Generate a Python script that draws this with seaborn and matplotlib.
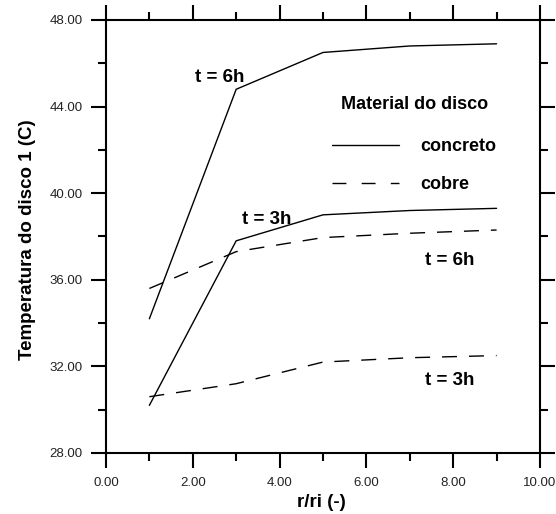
import matplotlib
matplotlib.use('Agg')
import matplotlib.pyplot as plt
from matplotlib.lines import Line2D
from matplotlib.ticker import MultipleLocator, FormatStrFormatter
import seaborn as sns
import pandas as pd

# Data
r_ri = [1, 3, 5, 7, 9]
concreto_6h = [34.2, 44.8, 46.5, 46.8, 46.9]
concreto_3h = [30.2, 37.8, 39.0, 39.2, 39.3]
cobre_6h = [35.6, 37.3, 37.95, 38.15, 38.3]
cobre_3h = [30.6, 31.2, 32.2, 32.4, 32.5]

sns.set_style('white')
plt.rcParams['font.family'] = ['Liberation Sans', 'DejaVu Sans']
plt.rcParams['text.color'] = 'black'
plt.rcParams['axes.labelcolor'] = 'black'

fig = plt.figure(figsize=(5.56, 5.14), dpi=100)
ax = fig.add_axes([0.1906, 0.1187, 0.7806, 0.8424])

dash = (0, (10.8, 8.6))
series = [(concreto_6h, '-'), (concreto_3h, '-'),
          (cobre_6h, dash), (cobre_3h, dash)]
for vals, ls in series:
    df = pd.DataFrame({'x': r_ri, 'y': vals})
    sns.lineplot(data=df, x='x', y='y', ax=ax, color='black',
                 linewidth=1.0, linestyle=ls)

# Axes limits and ticks
ax.set_xlim(0, 10)
ax.set_ylim(28, 48)
ax.xaxis.set_major_locator(MultipleLocator(2))
ax.xaxis.set_minor_locator(MultipleLocator(1))
ax.yaxis.set_major_locator(MultipleLocator(4))
ax.yaxis.set_minor_locator(MultipleLocator(2))
ax.xaxis.set_major_formatter(FormatStrFormatter('%.2f'))
ax.yaxis.set_major_formatter(FormatStrFormatter('%.2f'))
ax.tick_params(which='both', direction='out', top=True, right=True,
               bottom=True, left=True, width=1.5, color='black',
               labelsize=9.5, labelcolor='#222222')
ax.tick_params(which='major', length=11, pad=6)
ax.tick_params(which='minor', length=5.5)
for s in ax.spines.values():
    s.set_linewidth(1.5)
    s.set_color('black')

ax.set_xlabel('r/ri (-)', fontsize=13.5, fontweight='bold')
ax.set_ylabel('Temperatura do disco 1 (C)', fontsize=13.5, fontweight='bold')
ax.xaxis.set_label_coords(0.497, -0.095)
ax.yaxis.set_label_coords(-0.162, 0.492)

# Curve labels
lbl = dict(fontsize=13.5, fontweight='bold', ha='center', va='center')
ax.text(2.63, 45.35, 't = 6h', **lbl)
ax.text(3.71, 38.8, 't = 3h', **lbl)
ax.text(7.93, 36.9, 't = 6h', **lbl)
ax.text(7.93, 31.35, 't = 3h', **lbl)

# Legend
handles = [Line2D([], [], color='black', lw=1.0, ls='-'),
           Line2D([], [], color='black', lw=1.0, ls=(0, (10, 11)))]
leg = ax.legend(handles, ['concreto', 'cobre'], title='Material do disco',
                frameon=False, loc='upper left', borderpad=0,
                bbox_to_anchor=(0.500, 0.845), handlelength=3.7,
                handletextpad=1.2, labelspacing=1.15,
                prop={'weight': 'bold', 'size': 13})
leg.get_title().set_fontweight('bold')
leg.get_title().set_fontsize(13)
leg._legend_box.sep = 18

fig.savefig('out.png', dpi=100)
